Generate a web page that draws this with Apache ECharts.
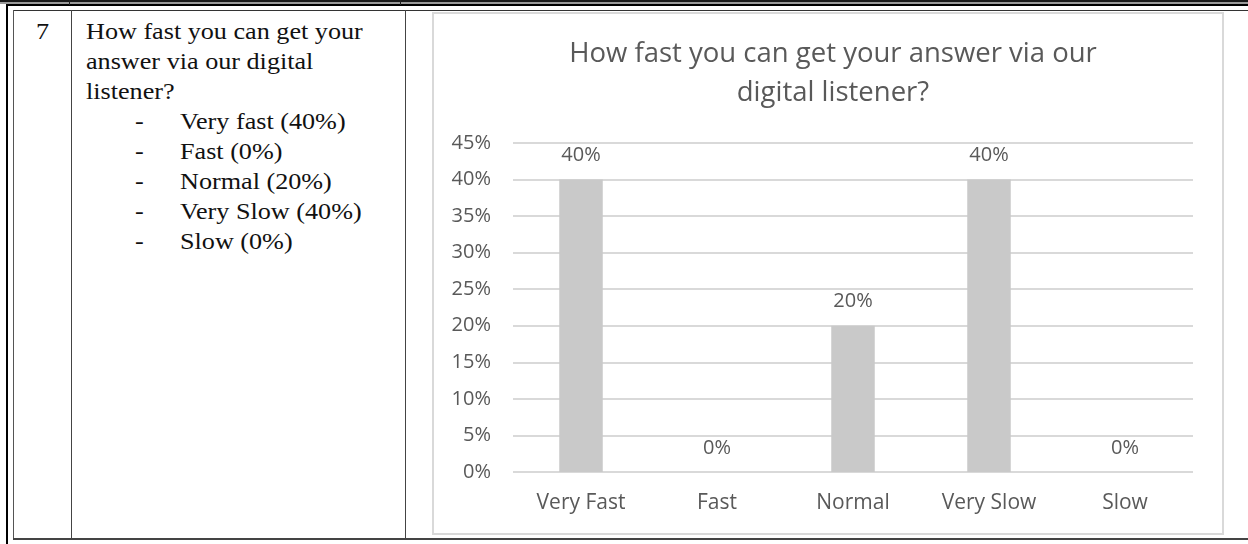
<!DOCTYPE html>
<html>
<head>
<meta charset="utf-8">
<script src="https://cdn.jsdelivr.net/npm/echarts@6/dist/echarts.min.js"></script>
<style>
  html, body { margin: 0; padding: 0; background: #fff; }
  body { width: 1248px; height: 544px; position: relative; overflow: hidden; }
  .ln { position: absolute; background: #222; }
  .txt { position: absolute; font-family: "Liberation Serif", "Times New Roman", serif; font-size: 24px; line-height: 30px; color: #111; white-space: nowrap; transform: scaleX(1.09); transform-origin: 0 0; }
  #frame { position: absolute; left: 432px; top: 12px; width: 792px; height: 523px; box-sizing: border-box; border: 2px solid #d9d9d9; background: #fff; }
  #chart { width: 788px; height: 519px; }
</style>
</head>
<body>
<!-- table rules -->
<div class="ln" style="left:0;top:0;width:1248px;height:2px;background:#1a1a1a"></div>
<div class="ln" style="left:0;top:2px;width:1248px;height:2px;background:#9a9a9a"></div>
<div class="ln" style="left:6px;top:4px;width:1242px;height:2px;background:#000"></div>
<div class="ln" style="left:69px;top:0;width:1px;height:5px"></div>
<div class="ln" style="left:400px;top:0;width:1px;height:5px"></div>
<div class="ln" style="left:6px;top:4px;width:2px;height:540px;background:#000"></div>
<div class="ln" style="left:13px;top:10px;width:1235px;height:1px;background:#333"></div>
<div class="ln" style="left:13px;top:10px;width:1px;height:529px;background:#555"></div>
<div class="ln" style="left:71px;top:10px;width:1px;height:529px;background:#444"></div>
<div class="ln" style="left:405px;top:10px;width:1px;height:529px;background:#444"></div>
<div class="ln" style="left:13px;top:538px;width:1235px;height:2px;background:#444"></div>

<div class="txt" style="left:36px;top:16px">7</div>
<div class="txt" style="left:86px;top:16px">How fast you can get your<br>answer via our digital<br>listener?</div>
<div class="txt" style="left:135px;top:106px">-<br>-<br>-<br>-<br>-</div>
<div class="txt" style="left:180px;top:106px">Very fast (40%)<br>Fast (0%)<br>Normal (20%)<br>Very Slow (40%)<br>Slow (0%)</div>

<div id="frame"><div id="chart"></div></div>

<script>
const titleText = "How fast you can get your answer via our\ndigital listener?";
const categories = ["Very Fast", "Fast", "Normal", "Very Slow", "Slow"];
const values = [40, 0, 20, 40, 0];
const yMin = 0, yMax = 45, yStep = 5;

const chart = echarts.init(document.getElementById('chart'), null, { renderer: 'canvas' });
const textColor = '#595959';
const font = '"Open Sans", "Noto Sans", sans-serif';
chart.setOption({
  animation: false,
  backgroundColor: '#fff',
  title: {
    text: titleText,
    left: 394,
    top: 16,
    textAlign: 'center',
    textStyle: { fontFamily: font, fontSize: 27.5, fontWeight: 'normal', color: textColor, lineHeight: 39 }
  },
  grid: { left: 79, top: 129, width: 680, height: 329, containLabel: false },
  xAxis: {
    type: 'category',
    data: categories,
    axisLine: { show: false },
    axisTick: { show: false },
    axisLabel: { color: textColor, fontFamily: font, fontSize: 21, margin: 21 }
  },
  yAxis: {
    type: 'value',
    min: yMin, max: yMax, interval: yStep,
    axisLine: { show: false },
    axisTick: { show: false },
    axisLabel: { color: textColor, fontFamily: font, fontSize: 20, margin: 22, formatter: '{value}%' },
    splitLine: { show: true, lineStyle: { color: '#d9d9d9', width: 2 } }
  },
  series: [{
    type: 'bar',
    data: values,
    barWidth: '32%',
    itemStyle: { color: '#c9c9c9' },
    label: { show: true, position: 'top', distance: 14, formatter: '{c}%', color: textColor, fontFamily: font, fontSize: 20 }
  }]
});
</script>
</body>
</html>
